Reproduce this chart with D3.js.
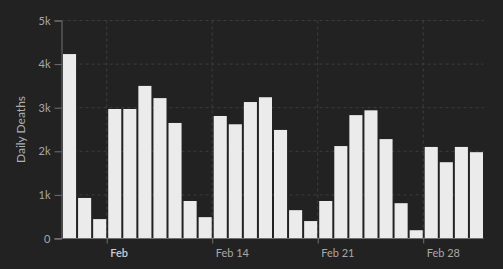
<!DOCTYPE html>
<html>
<head>
<meta charset="utf-8">
<script src="https://cdn.jsdelivr.net/npm/d3@7"></script>
<style>
  html, body { margin: 0; padding: 0; background: #222222; }
  svg { display: block; font-family: Lato, "Open Sans", sans-serif; }
</style>
</head>
<body>
<div id="chart"></div>
<script>
// daily values, one per day starting at startDate
var startDate = '2021-02-04'
var endDate = '2021-03-04'
var deaths = [4230, 930, 445, 2970, 2970, 3500, 3220, 2650,
  860, 490, 2810, 2620, 3130, 3240, 2490,
  650, 400, 860, 2120, 2830, 2940, 2280,
  810, 190, 2100, 1750, 2100, 1980]
var tickDates = ['2021-02-07', '2021-02-14', '2021-02-21', '2021-02-28']
var tickLabels = ['Feb', 'Feb 14', 'Feb 21', 'Feb 28']
var yTicks = [0, 1000, 2000, 3000, 4000, 5000]
var yTickLabels = ['0', '1k', '2k', '3k', '4k', '5k']

var width = 503, height = 269
var margin = {top: 20.5, right: 19.5, bottom: 30.5, left: 61.5}
var parse = d3.utcParse('%Y-%m-%d')

var data = deaths.map(function(v, i) {
  return {date: d3.utcDay.offset(parse(startDate), i), value: v}
})

var svg = d3.select('#chart').append('svg')
  .attr('width', width)
  .attr('height', height)

svg.append('rect').attr('width', width).attr('height', height).attr('fill', '#222222')

var x = d3.scaleUtc()
  .domain([parse(startDate), parse(endDate)])
  .range([margin.left, width - margin.right])

var y = d3.scaleLinear()
  .domain([0, 5000])
  .range([height - margin.bottom, margin.top])

// grid
var grid = svg.append('g').attr('stroke', '#3d3d3d').attr('stroke-dasharray', '3,3')
grid.selectAll('.hgrid').data(yTicks.slice(1)).enter().append('line')
  .attr('x1', margin.left).attr('x2', width - margin.right)
  .attr('y1', function(d) { return y(d) }).attr('y2', function(d) { return y(d) })
grid.selectAll('.vgrid').data(tickDates).enter().append('line')
  .attr('x1', function(d) { return x(parse(d)) }).attr('x2', function(d) { return x(parse(d)) })
  .attr('y1', margin.top).attr('y2', height - margin.bottom)

// bars
svg.append('g').selectAll('rect').data(data).enter().append('rect')
  .attr('x', function(d) { return x(d.date) + 1.5 })
  .attr('width', function(d) { return x(d3.utcDay.offset(d.date, 1)) - x(d.date) - 2 })
  .attr('y', function(d) { return y(d.value) })
  .attr('height', function(d) { return y(0) - y(d.value) })
  .attr('fill', '#ebebeb')

// y axis
var yAxis = svg.append('g')
  .attr('transform', 'translate(' + margin.left + ',0)')
  .call(d3.axisLeft(y).tickValues(yTicks).tickSize(7).tickPadding(4)
    .tickFormat(function(d, i) { return yTickLabels[i] }))
yAxis.select('.domain').attr('stroke', '#707070')
yAxis.selectAll('.tick line').attr('stroke', '#707070')
yAxis.selectAll('.tick text').attr('fill', '#a8a8a8').style('font-size', '11px')
  .style('font-family', 'Lato, sans-serif')

// x axis
var xAxis = svg.append('g')
  .attr('transform', 'translate(0,' + (height - margin.bottom) + ')')
  .call(d3.axisBottom(x).tickValues(tickDates.map(parse)).tickSize(5).tickSizeOuter(0)
    .tickFormat(function(d, i) { return tickLabels[i] }))
xAxis.select('.domain').attr('stroke', '#707070').attr('d', 'M' + (margin.left - 7) + ',0H' + (width - margin.right))
xAxis.selectAll('.tick line').attr('stroke', '#707070')
xAxis.selectAll('.tick text')
  .attr('text-anchor', 'start').attr('x', 3).attr('dy', '0.95em')
  .attr('fill', function(d, i) { return i == 0 ? '#cccccc' : '#a8a8a8' })
  .style('font-weight', function(d, i) { return i == 0 ? '600' : 'normal' })
  .style('font-size', '11px')
  .style('font-family', 'Lato, sans-serif')

// y label
svg.append('text')
  .attr('transform', 'translate(25,' + ((margin.top + height - margin.bottom) / 2) + ') rotate(-90)')
  .attr('text-anchor', 'middle')
  .attr('fill', '#b0b0b0')
  .style('font-size', '12px')
  .text('Daily Deaths')
</script>
</body>
</html>
